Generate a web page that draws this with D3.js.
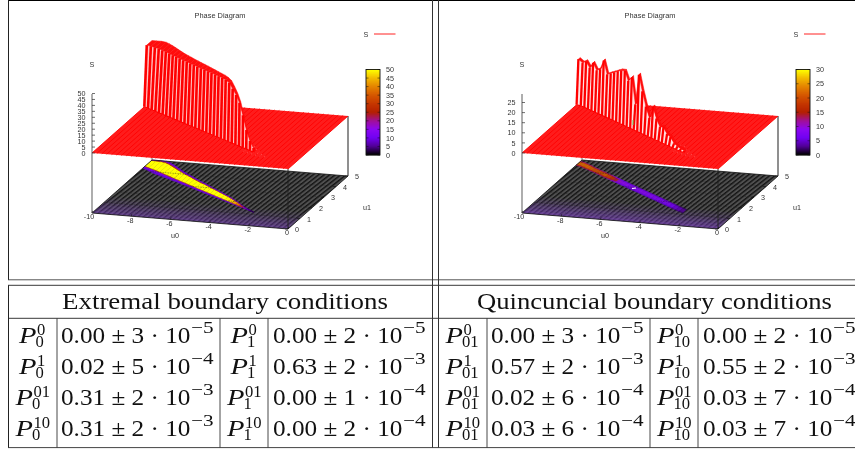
<!DOCTYPE html>
<html><head><meta charset="utf-8">
<script src="https://cdn.jsdelivr.net/npm/d3@7"></script>
<style>
html,body{margin:0;padding:0;background:#fff;overflow:hidden}
svg{display:block;filter:blur(0.35px)}
.g{font-family:"Liberation Sans",Arial,sans-serif;fill:#333;font-size:7.2px}
.t{font-family:"Liberation Serif",serif;fill:#111}
</style></head><body>
<svg id="c" width="855" height="452"></svg>
<script>
// ---- chart data ----
const u0Ticks=[-10,-8,-6,-4,-2,0];
const u1Ticks=[0,1,2,3,4,5];
const u0Sample=[-10,-9.75,-9.5,-9.25,-9,-8.75,-8.5,-8.25,-8,-7.75,-7.5,-7.25,-7,-6.75,-6.5,-6.25,-6,-5.75,-5.5,-5.25,-5,-4.75,-4.5,-4.25,-4,-3.75,-3.5,-3.25,-3,-2.75,-2.5];
const u0Rest=[-2.25,-2,-1.75,-1.5,-1.25,-1,-0.75,-0.5,-0.25,0];
// extremal ridge: edges in u1 and height S
const extLo=[4.36,4.26,4.15,4.05,3.94,3.84,3.73,3.63,3.52,3.42,3.31,3.21,3.10,3.0,2.89,2.79,2.68,2.58,2.47,2.37,2.26,2.16,2.05,1.95,1.84,1.74,1.63,1.53,1.42,1.32,1.21];
const extHi=[5,5,5,4.95,4.83,4.69,4.54,4.38,4.23,4.08,3.95,3.82,3.68,3.55,3.42,3.3,3.17,3.04,2.91,2.78,2.65,2.52,2.39,2.25,2.1,1.95,1.78,1.62,1.48,1.35,1.22];
const extPeak=[50,50,50,50,50,50,50,50,50,50,50,50,50,50,50,50,50,50,50,50,50,50,49.5,48.5,45,41,36,27,16,8,3.5];
const extFloor=[50,50,50,50,50,50,50,50,50,50,50,50,50,50,50,50,50,50,50,50,50,50,49,47,43,38,30,20,12,7,3];
// quincuncial ridge
const quiLo=[4.55,4.49,4.38,4.27,4.15,4.04,3.92,3.81,3.69,3.58,3.46,3.35,3.23,3.12,3.0,2.89,2.77,2.66,2.54,2.43,2.31,2.2,2.08,1.97,1.85,1.74,1.62,1.51,1.39,1.28,1.18];
const quiHi=[4.85,4.79,4.67,4.56,4.43,4.32,4.2,4.09,3.97,3.86,3.74,3.63,3.51,3.4,3.28,3.17,3.05,2.94,2.82,2.71,2.59,2.48,2.36,2.25,2.13,2.02,1.9,1.79,1.67,1.56,1.46];
const quiPeak=[21.8,20.5,22,19.6,22.9,20,21.4,26.4,20.4,21.7,23,24.3,25.6,26.1,22,24.6,12,27.4,20,13.3,8.5,14.8,9.8,6.4,7.2,4.5,3.8,1.5,0.8,0.3,0.1];
const quiFloor=[22,22,22,21,20,20,20,21,19,17,14,10,9,9,8,8,8,8,8,8,8,7.5,7.5,7,7,7,6,5,4,3,2];
// low ripple beyond the tip of the ridge
const tailU0=[-3,-2.75,-2.5,-2.25,-2,-1.75];
const tailLo=[1.2,1.1,1.0,0.95,0.9,0.85];
const tailHi=[1.9,1.75,1.55,1.35,1.15,1.0];
// cross-section of the ridge on the base map: edges (fraction of width) and relative S
const bandEdge=[-0.2,-0.1,0.0,0.05,0.1,0.9,0.96,1.0,1.08];
const extBandLevel=[0.17,0.22,0.3,0.6,1,0.6,0.3,0.17];
const quiBandLevel=[0.55,0.65,0.75,0.85,1,0.85,0.7,0.55];
// low S tint close to u1=0 on the base map
const tintEdge=[0,0.25,0.5,0.75,1,1.25,1.5];
const tintLevel=[0.62,0.5,0.38,0.27,0.16,0.07];
const extZTicks=[0,5,10,15,20,25,30,35,40,45,50];
const quiZTicks=[0,5,10,15,20,25];
const quiBarTicks=[0,5,10,15,20,25,30];
const paletteStops=["#000000","#510096","#7202f2","#8c07f2","#a11096","#b42000","#c53700","#d55700","#e48300","#f2ba00","#ffff00"];
// table
const headers=["Extremal boundary conditions","Quincuncial boundary conditions"];
const subs=["0","1","01","10"];
const sups=["0","1","01","10"];
const valRows=[
 ["0.00 ± 3 · 10","−5","0.00 ± 2 · 10","−5","0.00 ± 3 · 10","−5","0.00 ± 2 · 10","−5"],
 ["0.02 ± 5 · 10","−4","0.63 ± 2 · 10","−3","0.57 ± 2 · 10","−3","0.55 ± 2 · 10","−3"],
 ["0.31 ± 2 · 10","−3","0.00 ± 1 · 10","−4","0.02 ± 6 · 10","−4","0.03 ± 7 · 10","−4"],
 ["0.31 ± 2 · 10","−3","0.00 ± 2 · 10","−4","0.03 ± 6 · 10","−4","0.03 ± 7 · 10","−4"]];

// ---- drawing ----
const svg=d3.select("#c");
const defs=svg.append("defs");
const pat=defs.append("pattern").attr("id","hatch").attr("width",3.4).attr("height",3.4).attr("patternUnits","userSpaceOnUse").attr("patternTransform","rotate(-38)");
pat.append("rect").attr("width",3.4).attr("height",3.4).attr("fill","#505050");
pat.append("rect").attr("width",3.4).attr("height",1.4).attr("fill","#141414");

const cmap=d3.scaleLinear().domain(paletteStops.map((d,i)=>i/(paletteStops.length-1))).range(paletteStops).clamp(true);

const X0=d3.scaleLinear().domain([-10,0]).range([92,288]);
const XU=d3.scaleLinear().domain([0,5]).range([0,60]);
const Y0=d3.scaleLinear().domain([-10,0]).range([213,229]);
const YU=d3.scaleLinear().domain([0,5]).range([0,-53]);
const planeLift=60;

function panel(dx,cfg){
 const g=svg.append("g").attr("transform",`translate(${dx},0)`);
 const Z=d3.scaleLinear().domain(cfg.zDomain).range([0,cfg.zPx]);
 const fx=(a,b)=>X0(a)+XU(b);
 const fy=(a,b)=>Y0(a)+YU(b);
 const sy=(a,b,z)=>fy(a,b)-planeLift-Z(z);
 const poly=pts=>pts.map(p=>p.join(",")).join(" ");
 const s=u0Sample,n=s.length;
 // base map
 g.append("polygon").attr("points",poly([[fx(-10,0),fy(-10,0)],[fx(0,0),fy(0,0)],[fx(0,5),fy(0,5)],[fx(-10,5),fy(-10,5)]])).attr("fill","url(#hatch)");
 tintLevel.forEach((t,k)=>{
  g.append("polygon").attr("points",poly([[fx(-10,tintEdge[k]),fy(-10,tintEdge[k])],[fx(0,tintEdge[k]),fy(0,tintEdge[k])],[fx(0,tintEdge[k+1]),fy(0,tintEdge[k+1])],[fx(-10,tintEdge[k+1]),fy(-10,tintEdge[k+1])]]))
   .attr("fill","#7d42c4").attr("opacity",t*cfg.tint);
 });
 // ridge on the base map
 for(let i=0;i<n-1;i++){
  cfg.band.forEach((lv,k)=>{
   const e0=bandEdge[k],e1=bandEdge[k+1];
   const w0=cfg.hi[i]-cfg.lo[i],w1=cfg.hi[i+1]-cfg.lo[i+1];
   const p0=cfg.lo[i]+e0*w0,p1=cfg.lo[i]+e1*w0,p2=cfg.lo[i+1]+e1*w1,p3=cfg.lo[i+1]+e0*w1;
   const clip=b=>Math.min(5,b);
   const col=cmap(lv*cfg.floor[i]/cfg.barMax);
   g.append("polygon").attr("points",poly([[fx(s[i],clip(p0)),fy(s[i],clip(p0))],[fx(s[i],clip(p1)),fy(s[i],clip(p1))],[fx(s[i+1],clip(p2)),fy(s[i+1],clip(p2))],[fx(s[i+1],clip(p3)),fy(s[i+1],clip(p3))]]))
    .attr("fill",col).attr("stroke",col).attr("stroke-width",0.2).attr("opacity",cfg.floorOpacity);
  });
 }
 // dashed grid on base
 u1Ticks.slice(1,5).forEach(b=>g.append("line").attr("x1",fx(-10,b)).attr("y1",fy(-10,b)).attr("x2",fx(0,b)).attr("y2",fy(0,b)).attr("stroke","#222").attr("stroke-width",0.4).attr("stroke-dasharray","1.5 1"));
 u0Ticks.slice(1,5).forEach(a=>g.append("line").attr("x1",fx(a,0)).attr("y1",fy(a,0)).attr("x2",fx(a,5)).attr("y2",fy(a,5)).attr("stroke","#222").attr("stroke-width",0.4).attr("stroke-dasharray","1.5 1").attr("opacity",.5));
 // base border
 g.append("polygon").attr("points",poly([[fx(-10,0),fy(-10,0)],[fx(0,0),fy(0,0)],[fx(0,5),fy(0,5)],[fx(-10,5),fy(-10,5)]])).attr("fill","none").attr("stroke","#111").attr("stroke-width",0.8);
 // verticals
 const vline=(a,b,c,w)=>g.append("line").attr("x1",fx(a,b)).attr("x2",fx(a,b)).attr("y1",fy(a,b)).attr("y2",sy(a,b,0)).attr("stroke",c).attr("stroke-width",w);
 vline(-10,0,"#777",1.2); vline(0,0,"#222",.9); vline(0,5,"#333",1.1); vline(-10,5,"#555",.9);
 // flat surface
 const flat=[[fx(-10,0),sy(-10,0,0)],[fx(0,0),sy(0,0,0)],[fx(0,5),sy(0,5,0)],[fx(-10,5),sy(-10,5,0)]];
 g.append("polygon").attr("points",poly(flat)).attr("fill","#ff1c1c");
 s.concat(u0Rest).forEach(a=>g.append("line").attr("x1",fx(a,0)).attr("y1",sy(a,0,0)).attr("x2",fx(a,5)).attr("y2",sy(a,5,0)).attr("stroke","#ff0000").attr("stroke-width",.9));
 // ripple beyond the tip
 tailU0.forEach((a,i)=>g.append("line").attr("x1",fx(a,tailLo[i])).attr("y1",sy(a,tailLo[i],0)).attr("x2",fx(a,tailHi[i])).attr("y2",sy(a,tailHi[i],0)).attr("stroke","#fff").attr("stroke-width",.5).attr("stroke-dasharray","1 1.2").attr("opacity",.75));
 // ridge, back to front: plateau, then pale front faces with red grid lines
 const rise=cfg.rise;
 const front=i=>cfg.lo[i]+rise*(cfg.hi[i]-cfg.lo[i]);
 for(let i=0;i<n-1;i++){
  g.append("polygon").attr("points",poly([
    [fx(s[i],cfg.lo[i]),sy(s[i],cfg.lo[i],0)],
    [fx(s[i],front(i)),sy(s[i],front(i),cfg.peak[i])],
    [fx(s[i+1],front(i+1)),sy(s[i+1],front(i+1),cfg.peak[i+1])],
    [fx(s[i+1],cfg.lo[i+1]),sy(s[i+1],cfg.lo[i+1],0)]]))
   .attr("fill",cfg.gap).attr("stroke",cfg.gap).attr("stroke-width",.2);
 }
 for(let i=0;i<n-1;i++){
  g.append("polygon").attr("points",poly([
    [fx(s[i],front(i)),sy(s[i],front(i),cfg.peak[i])],
    [fx(s[i],cfg.hi[i]),sy(s[i],cfg.hi[i],cfg.peak[i])],
    [fx(s[i+1],cfg.hi[i+1]),sy(s[i+1],cfg.hi[i+1],cfg.peak[i+1])],
    [fx(s[i+1],front(i+1)),sy(s[i+1],front(i+1),cfg.peak[i+1])]]))
   .attr("fill","#ff0c0c").attr("stroke","#ff0c0c").attr("stroke-width",.5);
 }
 for(let i=0;i<n;i++){
  g.append("line").attr("x1",fx(s[i],cfg.lo[i])).attr("y1",sy(s[i],cfg.lo[i],0)).attr("x2",fx(s[i],front(i))).attr("y2",sy(s[i],front(i),cfg.peak[i]))
   .attr("stroke","#ff0000").attr("stroke-width",cfg.lineW);
 }
 g.append("polyline").attr("fill","none").attr("stroke","#ff0000").attr("stroke-width",1.2)
  .attr("points",poly(s.map((a,i)=>[fx(a,cfg.lo[i]),sy(a,cfg.lo[i],0)])));

 // z axis
 const x=fx(-10,0);
 g.append("line").attr("x1",x).attr("x2",x).attr("y1",sy(-10,0,0)).attr("y2",94).attr("stroke","#333").attr("stroke-width",.8);
 cfg.zTicks.forEach(t=>{
  const y=sy(-10,0,t);
  g.append("line").attr("x1",x).attr("x2",x+3).attr("y1",y).attr("y2",y).attr("stroke","#333").attr("stroke-width",.7);
  g.append("text").attr("class","g").attr("x",x-6.5).attr("y",y+2.6).attr("text-anchor","end").text(t);
 });
 // base ticks
 u0Ticks.forEach(t=>{
  g.append("line").attr("x1",fx(t,0)).attr("y1",fy(t,0)).attr("x2",fx(t,0)+.7).attr("y2",fy(t,0)-2.2).attr("stroke","#111").attr("stroke-width",.6);
  g.append("text").attr("class","g").attr("x",fx(t,0)-(t==-10?3:1)).attr("y",fy(t,0)+6.3).attr("text-anchor","middle").text(t);
 });
 u1Ticks.forEach(t=>{
  g.append("line").attr("x1",fx(0,t)).attr("y1",fy(0,t)).attr("x2",fx(0,t)-3).attr("y2",fy(0,t)).attr("stroke","#111").attr("stroke-width",.6);
  g.append("text").attr("class","g").attr("x",fx(0,t)+9).attr("y",fy(0,t)+3.2).attr("text-anchor","middle").text(t);
 });
 const label=(tx,xp,yp,fs)=>g.append("text").attr("class","g").attr("x",xp).attr("y",yp).attr("text-anchor","middle").style("font-size",fs?fs+"px":null).text(tx);
 label("Phase Diagram",220,18,7.4);
 label("u0",175,238);
 label("u1",367,210);
 label("S",92,67);
 label("S",366,36.6);
 g.append("line").attr("x1",374).attr("x2",395.5).attr("y1",34).attr("y2",34).attr("stroke","#ff2222").attr("stroke-width",1);
 // colour box
 const bar=d3.scaleLinear().domain([0,cfg.barMax]).range([155,69.5]);
 d3.range(0,86).forEach(k=>{
  g.append("rect").attr("x",366).attr("width",14).attr("y",155-k-1).attr("height",1.3).attr("fill",cmap(k/85));
 });
 g.append("rect").attr("x",366).attr("y",69.5).attr("width",14).attr("height",85.5).attr("fill","none").attr("stroke","#111").attr("stroke-width",.9);
 cfg.barTicks.forEach(t=>{
  const y=bar(t);
  g.append("line").attr("x1",366).attr("x2",368.5).attr("y1",y).attr("y2",y).attr("stroke","#111").attr("stroke-width",.5);
  g.append("line").attr("x1",377.5).attr("x2",380).attr("y1",y).attr("y2",y).attr("stroke","#111").attr("stroke-width",.5);
  g.append("text").attr("class","g").attr("x",386).attr("y",y+2.6).text(t);
 });
 return {g,fx,fy,sy};
}
panel(0,{lo:extLo,hi:extHi,peak:extPeak,floor:extFloor,band:extBandLevel,zDomain:[0,50],zPx:59.5,zTicks:extZTicks,barMax:50,barTicks:extZTicks,rise:.32,lineW:2.6,gap:"#ffc4c4",tint:.8,floorOpacity:1});
const q=panel(430,{lo:quiLo,hi:quiHi,peak:quiPeak,floor:quiFloor,band:quiBandLevel,zDomain:[0,25],zPx:50.5,zTicks:quiZTicks,barMax:30,barTicks:quiBarTicks,rise:.5,lineW:2.3,gap:"#ffe2e2",tint:.95,floorOpacity:.9});
q.g.append("line").attr("x1",203).attr("x2",203).attr("y1",120).attr("y2",125).attr("stroke","#5fd05f").attr("stroke-width",1);
q.g.append("line").attr("x1",202).attr("x2",206).attr("y1",188.5).attr("y2",188).attr("stroke","#fff").attr("stroke-width",1.2);

// ---- table rules ----
const rule=(x1,y1,x2,y2,c,w)=>svg.append("line").attr("x1",x1).attr("y1",y1).attr("x2",x2).attr("y2",y2).attr("stroke",c||"#222").attr("stroke-width",w||1);
rule(8,.5,855,.5,"#000",1.2);
rule(8,279.8,855,279.8,"#555",1);
rule(8,285.3,855,285.3,"#222",.9);
rule(8,318.3,855,318.3,"#222",.9);
rule(8,447.6,855,447.6,"#444",1);
rule(8.5,0,8.5,279.8,"#222",1);
rule(8.5,285.3,8.5,447.6,"#222",1);
[432.5,438.5].forEach(x=>{rule(x,0,x,447.6,"#333",1);});
[57,220,268,487,650,698].forEach(x=>rule(x,318.3,x,447.6,"#333",.9));

// ---- table text ----
const rowBase=[342.5,373.5,404.5,435.5];
const head=[[62,326],[477,355]];
headers.forEach((h,i)=>svg.append("text").attr("class","t").attr("x",head[i][0]).attr("y",309).attr("font-size",23.5).attr("textLength",head[i][1]).attr("lengthAdjust","spacingAndGlyphs").text(h));
const colP=[32.5,244,462.5,674];
const colV=[61,273,491,703];
colP.forEach((cx,c)=>{
 rowBase.forEach((by,r)=>{
  const sub=subs[c], sup=sups[r];
  const wid=Math.max(sub.length,sup.length)>1?17:10;
  const x0=cx-(17+wid)/2;
  svg.append("text").attr("class","t").attr("x",x0).attr("y",by).attr("font-size",24).attr("font-style","italic").attr("textLength",17.5).attr("lengthAdjust","spacingAndGlyphs").text("P");
  const script=(txt,xx,yy)=>svg.append("text").attr("class","t").attr("x",xx).attr("y",yy).attr("font-size",16).attr("textLength",txt.length*8.3).attr("lengthAdjust","spacingAndGlyphs").text(txt);
  script(sup,x0+18,by-8);
  script(sub,x0+16.5,by+4.5);
  const main=valRows[r][c*2], ex=valRows[r][c*2+1];
  svg.append("text").attr("class","t").attr("x",colV[c]).attr("y",by).attr("font-size",23).attr("textLength",129.5).attr("lengthAdjust","spacingAndGlyphs").text(main);
  svg.append("text").attr("class","t").attr("x",colV[c]+130).attr("y",by-9.5).attr("font-size",16.5).attr("textLength",22.5).attr("lengthAdjust","spacingAndGlyphs").text(ex);
 });
});
</script>
</body></html>
